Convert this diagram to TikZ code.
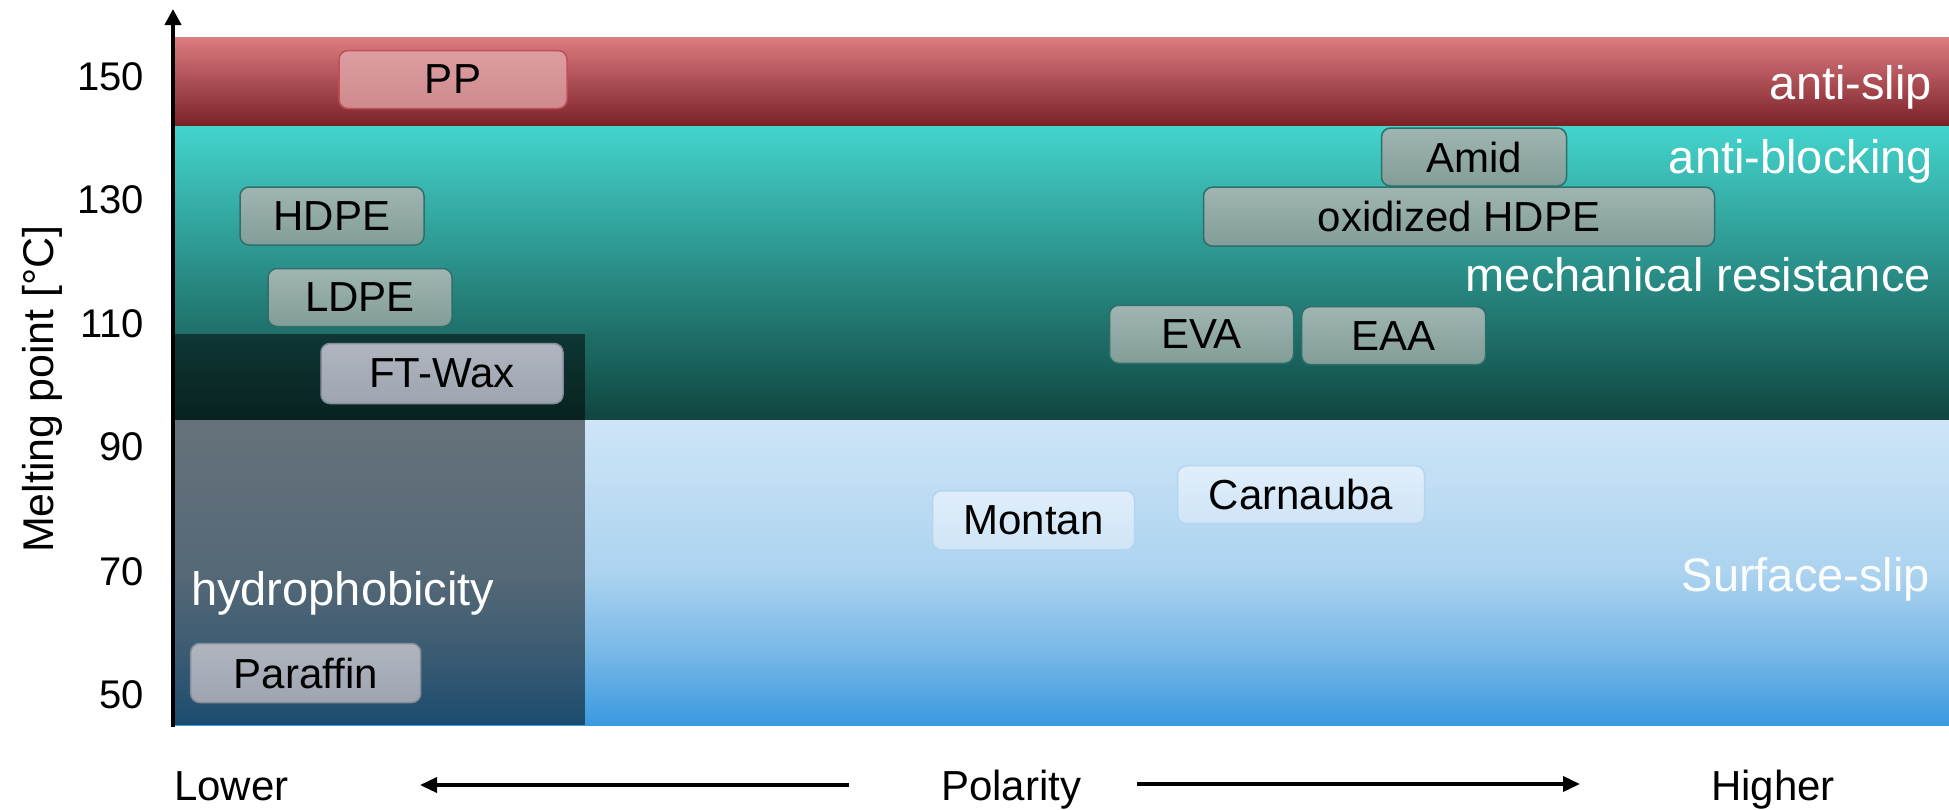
\documentclass[tikz,border=0pt]{standalone}
\usepackage{fontspec}
\setmainfont{Liberation Sans}
\usetikzlibrary{arrows.meta}
\definecolor{rTop}{HTML}{DD7C81}
\definecolor{rMid}{HTML}{B72F38}
\definecolor{rBot}{HTML}{7A2128}
\definecolor{tTop}{HTML}{43D4CC}
\definecolor{tMid}{HTML}{1F8079}
\definecolor{tBot}{HTML}{104540}
\definecolor{bA}{HTML}{3A99DF}
\definecolor{bB}{HTML}{78B8E6}
\definecolor{bC}{HTML}{ACD3EF}
\definecolor{bD}{HTML}{CDE5F7}
\definecolor{ppTop}{HTML}{DC9EA2}
\definecolor{ppBot}{HTML}{CF8A8C}
\definecolor{ppEdge}{HTML}{C24E5A}
\definecolor{tbTop}{HTML}{A0B5B2}
\definecolor{tbBot}{HTML}{829D98}
\definecolor{tbEdge}{HTML}{2D6F69}
\definecolor{gbTop}{HTML}{B0B5BF}
\definecolor{gbBot}{HTML}{9EA5B0}
\definecolor{gbEdge}{HTML}{858D9A}
\definecolor{lbTop}{HTML}{E0EEFA}
\definecolor{lbBot}{HTML}{CFE4F6}
\definecolor{lbEdge}{HTML}{B4D5EF}
\pgfdeclareverticalshading{blueband}{100bp}{color(0bp)=(bA); color(25bp)=(bA); color(37bp)=(bB); color(50bp)=(bC); color(75bp)=(bD); color(100bp)=(bD)}
\tikzset{
  tick/.style={anchor=east, inner sep=0pt, font=\fontsize{40}{48}\selectfont},
  region/.style={anchor=base east, inner sep=0pt, text=white, font=\fontsize{47}{56}\selectfont},
  axislabel/.style={inner sep=0pt, font=\fontsize{42}{50}\selectfont},
  box/.style={rounded corners=9pt, line width=1.5pt, minimum height=58pt, inner sep=0pt, font=\fontsize{42}{50}\selectfont},
  ppbox/.style={box, draw=ppEdge, top color=ppTop, bottom color=ppBot},
  tealbox/.style={box, draw=tbEdge, top color=tbTop, bottom color=tbBot},
  greybox/.style={box, draw=gbEdge, top color=gbTop, bottom color=gbBot},
  bluebox/.style={box, draw=lbEdge, top color=lbTop, bottom color=lbBot},
  polarrow/.style={line width=3.5pt, -{Triangle[length=17pt,width=15pt]}},
}
\begin{document}
\begin{tikzpicture}[x=1pt,y=-1pt]
\useasboundingbox (0,0) rectangle (1949,809);
% bands
\shade[top color=rTop, middle color=rMid, bottom color=rBot] (173,37) rectangle (1949,126);
\shade[top color=tTop, middle color=tMid, bottom color=tBot] (173,126) rectangle (1949,420);
\shade[shading=blueband] (173,420) rectangle (1949,725);
% dark overlay
\fill[black, opacity=0.5] (173,333.5) rectangle (585,725);
% axis
\coordinate (ybot) at (173,727);
\coordinate (ytop) at (173,9);
\draw[line width=4pt, -{Triangle[length=16pt,width=16pt]}] (ybot) -- (ytop);
% ticks
\node[tick] (t150) at (144,76.7) {150};
\node[tick] (t130) at (144,200) {130};
\node[tick] (t110) at (144,323.5) {110};
\node[tick] (t90) at (144,447) {90};
\node[tick] (t70) at (144,571.5) {70};
\node[tick] (t50) at (144,694.5) {50};
\node[axislabel, rotate=90, anchor=base, font=\fontsize{43}{50}\selectfont] (ylab) at (53,389) {Melting point [°C]};
% region labels
\node[region] (antislip) at (1932,99) {anti-slip};
\node[region] (antiblock) at (1933,173) {anti-blocking};
\node[region] (mech) at (1931,291) {mechanical resistance};
\node[region, text=white!92!bD] (surf) at (1930,591) {Surface-slip};
\node[region, anchor=base west] (hydro) at (191,605) {hydrophobicity};
% boxes
\node[ppbox, minimum width=228pt] (pp) at (453,79.5) {PP};
\node[tealbox, minimum width=184pt] (hdpe) at (332,216) {HDPE};
\node[tealbox, minimum width=184pt] (ldpe) at (360,297.5) {LDPE};
\node[greybox, minimum width=242pt, minimum height=60pt] (ft) at (442,373.5) {FT-Wax};
\node[greybox, minimum width=230pt, minimum height=59pt] (paraffin) at (305.7,673) {Paraffin};
\node[tealbox, minimum width=185pt] (amid) at (1474,157) {Amid};
\node[tealbox, minimum width=511pt, minimum height=59pt] (oxhdpe) at (1459,216.7) {oxidized HDPE};
\node[tealbox, minimum width=184pt] (eva) at (1201.5,334.3) {EVA};
\node[tealbox, minimum width=184pt] (eaa) at (1393.7,335.7) {EAA};
\node[bluebox, minimum width=202pt, minimum height=59pt] (montan) at (1033.6,520.3) {Montan};
\node[bluebox, minimum width=247pt] (carnauba) at (1301,494.7) {Carnauba};
% polarity axis
\node[axislabel, anchor=base west] (lower) at (174,800) {Lower};
\node[axislabel, anchor=base west] (polarity) at (941,800) {Polarity};
\node[axislabel, anchor=base west] (higher) at (1711,800) {Higher};
\coordinate (la) at (849,785);
\coordinate (lb) at (420,785);
\coordinate (ra) at (1137,784);
\coordinate (rb) at (1580,784);
\draw[polarrow] (la) -- (lb);
\draw[polarrow] (ra) -- (rb);
\end{tikzpicture}
\end{document}
